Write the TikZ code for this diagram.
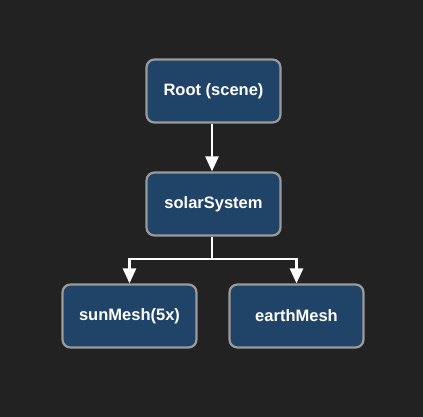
\documentclass[tikz,border=0pt]{standalone}
\usepackage{fontspec}
\setmainfont{Liberation Sans}
\usetikzlibrary{arrows.meta}
\definecolor{bg}{HTML}{222222}
\definecolor{nodefill}{HTML}{1F4468}
\definecolor{nodeborder}{HTML}{9A9A9A}
\begin{document}
\begin{tikzpicture}[x=1pt,y=-1pt,
  box/.style={draw=nodeborder, line width=2.2pt, fill=nodefill, rounded corners=8pt,
    minimum width=134pt, minimum height=63pt, inner sep=0pt,
    text=white, font=\fontsize{16.5pt}{19pt}\selectfont\bfseries},
  conn/.style={draw=white, line width=2.5pt, -{Triangle[width=13pt,length=15pt]}}]
\fill[bg] (0,0) rectangle (423,417);
\useasboundingbox (0,0) rectangle (423,417);
\node[box] (root) at (213.5,91) {Root (scene)};
\node[box] (solar) at (213.5,204) {solarSystem};
\node[box] (sun) at (129.5,316) {sunMesh(5x)};
\node[box] (earth) at (296.5,316) {earthMesh};
\draw[conn] (root.south -| 212,0) -- (solar.north -| 212,0);
\coordinate (split) at (212,259);
\draw[conn] (solar.south -| split) -- (split) -| (sun.north);
\draw[conn] (split) -| (earth.north);
\end{tikzpicture}
\end{document}
